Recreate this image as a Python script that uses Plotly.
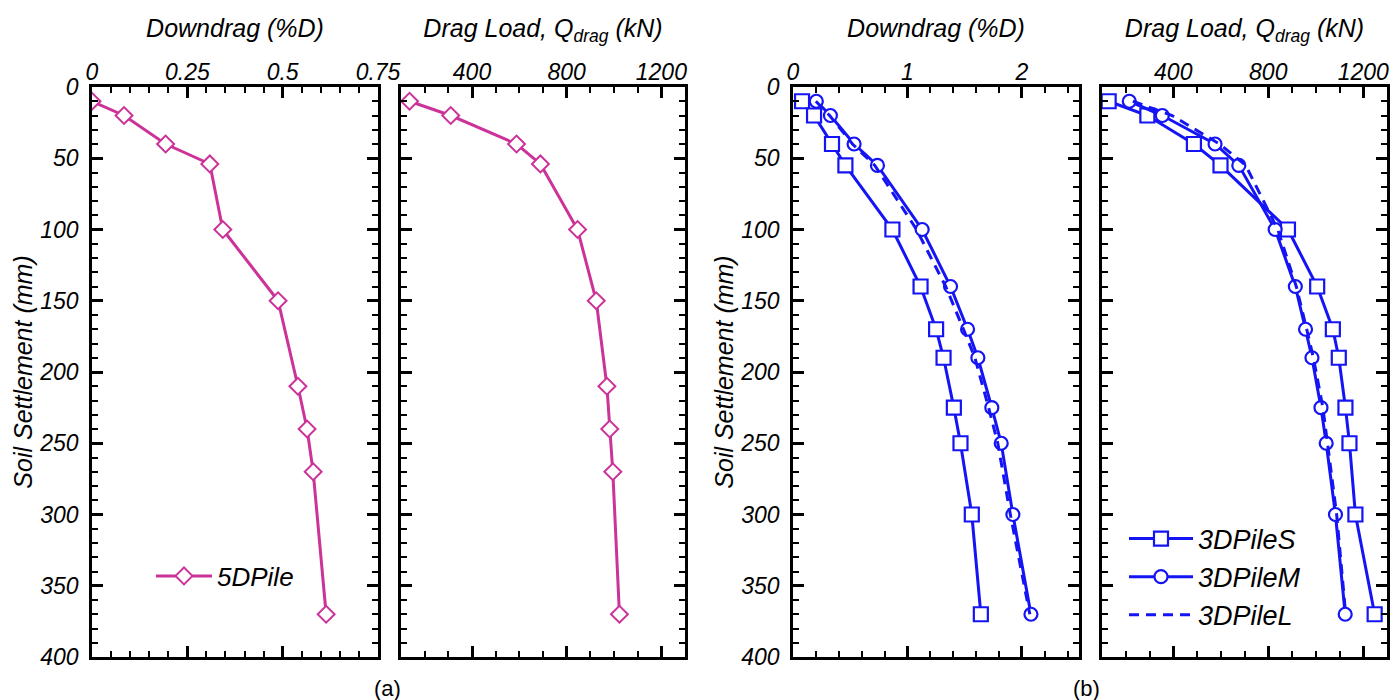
import plotly.graph_objects as go

# ---------------- data ----------------
# Panel (a): 5DPile
settle_a = [10, 20, 40, 54, 100, 150, 210, 240, 270, 370]
downdrag_a = [0.0, 0.084, 0.193, 0.309, 0.343, 0.488, 0.540, 0.564, 0.580, 0.614]
dragload_a = [136, 310, 588, 689, 846, 925, 970, 982, 995, 1023]

# Panel (b): 3DPileS / 3DPileM / 3DPileL
settle_b = [10, 20, 40, 55, 100, 140, 170, 190, 225, 250, 300, 370]
downdrag_S = [0.079, 0.184, 0.341, 0.458, 0.869, 1.115, 1.251, 1.316, 1.406, 1.464, 1.563, 1.642]
downdrag_M = [0.204, 0.327, 0.534, 0.738, 1.129, 1.377, 1.526, 1.616, 1.738, 1.820, 1.922, 2.080]
downdrag_L = [0.200, 0.320, 0.520, 0.715, 1.080, 1.335, 1.490, 1.590, 1.710, 1.790, 1.900, 2.070]
dragload_S = [128, 291, 487, 599, 883, 1006, 1072, 1097, 1125, 1142, 1167, 1248]
dragload_M = [215, 354, 576, 676, 829, 914, 957, 984, 1022, 1044, 1083, 1124]
dragload_L = [230, 395, 595, 705, 840, 918, 962, 990, 1030, 1050, 1088, 1126]

# tick labels / ranges
y_range = [400, 0]
x1_range = [0, 0.75]
x2_range = [100, 1300]
x3_range = [0, 2.5]
x4_range = [100, 1300]

MAGENTA = "#cc3399"
BLUE = "#1414f5"
FONT = "Liberation Sans, Arial, sans-serif"

W, H = 1391, 700

def px_x(a, b):
    return [a / W, b / W]

y_dom = [1 - 657 / H, 1 - 87 / H]

fig = go.Figure()

# ---- panel (a) ----
fig.add_trace(go.Scatter(
    x=downdrag_a, y=settle_a, mode="lines+markers", name="5DPile",
    line=dict(color=MAGENTA, width=3),
    marker=dict(symbol="diamond", size=13, color="white",
                line=dict(color=MAGENTA, width=2)),
    xaxis="x", yaxis="y", legend="legend"))
fig.add_trace(go.Scatter(
    x=dragload_a, y=settle_a, mode="lines+markers", name="5DPile",
    line=dict(color=MAGENTA, width=3),
    marker=dict(symbol="diamond", size=13, color="white",
                line=dict(color=MAGENTA, width=2)),
    xaxis="x2", yaxis="y2", showlegend=False))

# ---- panel (b) ----
def add_b(xvals, xa, ya, name, symbol, dash, show, mode, size):
    fig.add_trace(go.Scatter(
        x=xvals, y=settle_b, mode=mode, name=name,
        line=dict(color=BLUE, width=3, dash=dash),
        marker=dict(symbol=symbol, size=size, color="white",
                    line=dict(color=BLUE, width=2.2)),
        xaxis=xa, yaxis=ya, showlegend=show, legend="legend2"))

add_b(downdrag_S, "x3", "y3", "3DPileS", "square", "solid", False, "lines+markers", 14)
add_b(downdrag_M, "x3", "y3", "3DPileM", "circle", "solid", False, "lines+markers", 13)
add_b(downdrag_L, "x3", "y3", "3DPileL", "circle", "10px,7px", False, "lines", 13)
add_b(dragload_S, "x4", "y4", "3DPileS", "square", "solid", True, "lines+markers", 14)
add_b(dragload_M, "x4", "y4", "3DPileM", "circle", "solid", True, "lines+markers", 13)
add_b(dragload_L, "x4", "y4", "3DPileL", "circle", "10px,7px", True, "lines", 13)

tickfont = dict(family=FONT, size=23, color="black", style="italic")
titlefont = dict(family=FONT, size=25, color="black", style="italic")

def xaxis(dom, rng, dtick, minor, title, anchor):
    return dict(domain=dom, range=rng, side="top", anchor=anchor,
                tick0=0, dtick=dtick, ticks="inside", ticklen=11, tickwidth=2.5,
                tickcolor="black", showline=True, linecolor="black", linewidth=2.5,
                mirror="ticks", showgrid=False, zeroline=False,
                minor=dict(ticks="inside", ticklen=6, tickwidth=2, dtick=minor,
                           tickcolor="black", showgrid=False),
                tickfont=tickfont, ticklabelstandoff=-5,
                title=dict(text=title, font=titlefont, standoff=15),
                automargin=False)

def yaxis(dom, showlabels, title, anchor):
    d = dict(domain=dom, range=y_range, anchor=anchor,
             tick0=0, dtick=50, ticks="inside", ticklen=11, tickwidth=2.5,
             tickcolor="black", showline=True, linecolor="black", linewidth=2.5,
             mirror="ticks", showgrid=False, zeroline=False,
             minor=dict(ticks="inside", ticklen=6, tickwidth=2, dtick=10,
                        tickcolor="black", showgrid=False),
             showticklabels=showlabels, tickfont=tickfont, ticklabelstandoff=6,
             automargin=False)
    if title:
        d["title"] = dict(text=title, font=titlefont, standoff=0)
    return d

drag_title = "Drag Load, Q<sub>drag</sub> (kN)"
fig.update_layout(
    width=W, height=H,
    margin=dict(l=0, r=0, t=0, b=0),
    paper_bgcolor="white", plot_bgcolor="white",
    font=dict(family=FONT, color="black"),
    xaxis=xaxis(px_x(92, 378), x1_range, 0.25, 0.05, "Downdrag (%D)", "y"),
    xaxis2=xaxis(px_x(401, 685), x2_range, 400, 100, drag_title, "y2"),
    xaxis3=xaxis(px_x(793, 1079), x3_range, 1, 0.2, "Downdrag (%D)", "y3"),
    xaxis4=xaxis(px_x(1102, 1387), x4_range, 400, 100, drag_title, "y4"),
    yaxis=yaxis(y_dom, True, "Soil Settlement (mm)", "x"),
    yaxis2=yaxis(y_dom, False, None, "x2"),
    yaxis3=yaxis(y_dom, True, "Soil Settlement (mm)", "x3"),
    yaxis4=yaxis(y_dom, False, None, "x4"),
    legend=dict(x=151 / W, y=1 - 576 / H, xanchor="left", yanchor="middle",
                bgcolor="rgba(0,0,0,0)", borderwidth=0, itemwidth=56,
                font=dict(family=FONT, size=26, color="black", style="italic")),
    legend2=dict(x=1124 / W, y=1 - 577 / H, xanchor="left", yanchor="middle",
                 bgcolor="rgba(0,0,0,0)", borderwidth=0, traceorder="normal",
                 itemwidth=64,
                 font=dict(family=FONT, size=27, color="black", style="italic")),
    annotations=[
        dict(text="(a)", x=387 / W, y=1 - 688 / H, xref="paper", yref="paper",
             xanchor="center", yanchor="middle",
             showarrow=False, font=dict(family=FONT, size=22, color="black")),
        dict(text="(b)", x=1086 / W, y=1 - 688 / H, xref="paper", yref="paper",
             xanchor="center", yanchor="middle",
             showarrow=False, font=dict(family=FONT, size=22, color="black")),
    ],
)

fig.write_html("out.html")
